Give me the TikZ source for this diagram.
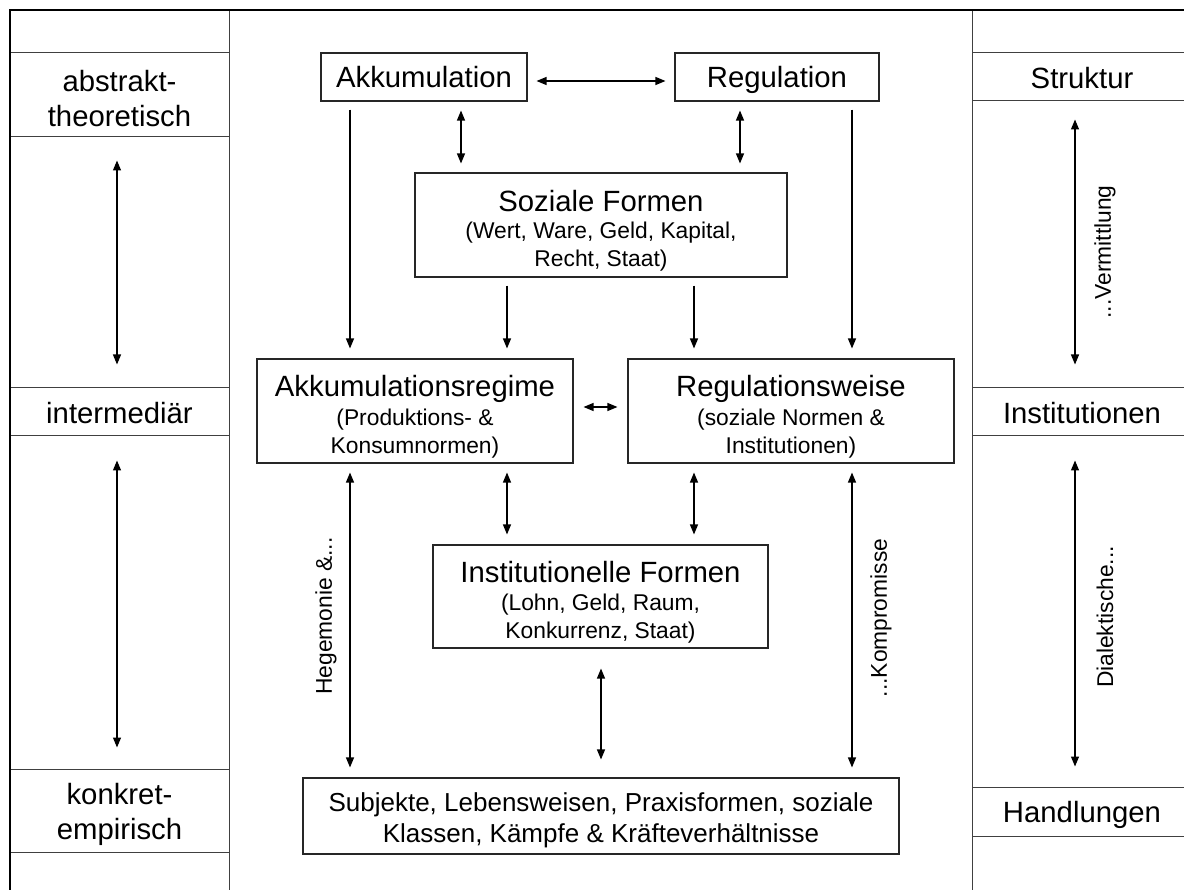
\documentclass[tikz,border=0pt]{standalone}
\usepackage{fontspec}
\setmainfont{Liberation Sans}
\usetikzlibrary{arrows.meta,calc}
\newcommand\mainsz{\fontsize{29.3}{34}\selectfont}
\newcommand\cellsz{\fontsize{29.3}{35}\selectfont}
\newcommand\subsz{\fontsize{22.8}{28}\selectfont}
\newcommand\subjsz{\fontsize{26}{31}\selectfont}
\newcommand\topstrut[1]{\rule{0pt}{#1}}
\begin{document}
\begin{tikzpicture}[x=1pt,y=-1pt,
  box/.style={draw=black!85, line width=1.1pt, inner sep=0pt, align=center, text=black},
  onebox/.style={box, font=\mainsz, text height=22pt, text depth=0pt},
  cell/.style={draw=black!75, line width=1pt, inner sep=0pt, align=center, font=\cellsz},
  onecell/.style={cell, text height=22.5pt, text depth=0pt},
  sarr/.style={line width=1.2pt, -{Triangle[length=10pt,width=8pt]}},
  darr/.style={line width=1.2pt, {Triangle[length=10pt,width=8pt]}-{Triangle[length=10pt,width=8pt]}},
  lbl/.style={font=\subsz, rotate=90, inner sep=0pt}
]
\useasboundingbox (0,0) rectangle (1184,890);
\clip (0,0) rectangle (1184,890);
\fill[white] (0,0) rectangle (1184,890);

% side columns
\node[cell, minimum width=219pt, minimum height=84pt] (abs) at (119.5,95) {\topstrut{28pt}abstrakt-\\theoretisch};
\node[onecell, minimum width=219pt, minimum height=48pt] (inter) at (119.5,412) {intermediär};
\node[cell, minimum width=219pt, minimum height=83pt] (konk) at (119.5,810.5) {\topstrut{29pt}konkret-\\empirisch};
\node[onecell, minimum width=220pt, minimum height=48pt] (struk) at (1082,77) {Struktur};
\node[onecell, minimum width=220pt, minimum height=48pt] (instR) at (1082,412) {Institutionen};
\node[onecell, minimum width=220pt, minimum height=49pt] (handl) at (1082,811.5) {Handlungen};

% frame and dividers
\draw[black!75, line width=1pt] (229,10) -- (229,890);
\draw[black!75, line width=1pt] (972,10) -- (972,890);
\draw[line width=2.5pt] (10,890) -- (10,10) -- (1190,10);

% central boxes
\node[onebox, minimum width=206pt, minimum height=48pt] (akk) at (424,77) {Akkumulation};
\node[onebox, minimum width=204pt, minimum height=48pt] (reg) at (777,77) {Regulation};
\node[box, font=\subsz, minimum width=372pt, minimum height=104pt] (soz) at (601,225)
  {{\mainsz\topstrut{33pt}Soziale Formen}\\[-1pt](Wert, Ware, Geld, Kapital,\\Recht, Staat)};
\node[box, font=\subsz, minimum width=316pt, minimum height=104pt] (akkreg) at (415,411)
  {{\mainsz\topstrut{33pt}Akkumulationsregime}\\[1pt](Produktions- \&\\Konsumnormen)};
\node[box, font=\subsz, minimum width=326pt, minimum height=104pt] (regw) at (791,411)
  {{\mainsz\topstrut{33pt}Regulationsweise}\\[1pt](soziale Normen \&\\Institutionen)};
\node[box, font=\subsz, minimum width=335pt, minimum height=103pt] (inst) at (600.5,596.5)
  {{\mainsz\topstrut{33pt}Institutionelle Formen}\\[0pt](Lohn, Geld, Raum,\\Konkurrenz, Staat)};
\node[box, font=\subjsz, minimum width=596pt, minimum height=76pt] (subj) at (601,816)
  {\topstrut{27pt}Subjekte, Lebensweisen, Praxisformen, soziale\\Klassen, Kämpfe \& Kräfteverhältnisse};

% x positions of connectors
\coordinate (xa) at (350,0);
\coordinate (xb) at (461,0);
\coordinate (xc) at (740,0);
\coordinate (xd) at (507,0);
\coordinate (xe) at (694,0);
\coordinate (xf) at (852,0);
\coordinate (xg) at (601,0);
\coordinate (xl) at (117,0);
\coordinate (xr) at (1075,0);

% connectors
\draw[darr, shorten <=9pt, shorten >=9pt] ([yshift=-4pt]akk.east) -- ([yshift=-4pt]reg.west);
\draw[darr, shorten <=9pt, shorten >=9pt] (akk.south -| xb) -- (soz.north -| xb);
\draw[darr, shorten <=9pt, shorten >=9pt] (reg.south -| xc) -- (soz.north -| xc);
\draw[sarr, shorten <=8pt, shorten >=10pt] (akk.south -| xa) -- (akkreg.north -| xa);
\draw[sarr, shorten <=8pt, shorten >=10pt] (reg.south -| xf) -- (regw.north -| xf);
\draw[sarr, shorten <=8pt, shorten >=10pt] (soz.south -| xd) -- (akkreg.north -| xd);
\draw[sarr, shorten <=8pt, shorten >=10pt] (soz.south -| xe) -- (regw.north -| xe);
\draw[darr, shorten <=10pt, shorten >=10pt] ([yshift=4pt]akkreg.east) -- ([yshift=4pt]regw.west);
\draw[darr, shorten <=9pt, shorten >=10pt] (akkreg.south -| xa) -- (subj.north -| xa);
\draw[darr, shorten <=9pt, shorten >=10pt] (akkreg.south -| xd) -- (inst.north -| xd);
\draw[darr, shorten <=9pt, shorten >=10pt] (regw.south -| xe) -- (inst.north -| xe);
\draw[darr, shorten <=9pt, shorten >=10pt] (regw.south -| xf) -- (subj.north -| xf);
\draw[darr, shorten <=20pt, shorten >=18pt] (inst.south -| xg) -- (subj.north -| xg);

\draw[darr, shorten <=23pt, shorten >=23pt] (abs.south -| xl) -- (inter.north -| xl);
\draw[darr, shorten <=24pt, shorten >=21pt] (inter.south -| xl) -- (konk.north -| xl);
\draw[darr, shorten <=18pt, shorten >=23pt] (struk.south -| xr) -- (instR.north -| xr);
\draw[darr, shorten <=24pt, shorten >=20pt] (instR.south -| xr) -- (handl.north -| xr);

% rotated labels
\node[lbl] (heg) at (326,616) {Hegemonie \&...};
\node[lbl] (komp) at (881,618) {...Kompromisse};
\node[lbl] (verm) at (1105,252) {...Vermittlung};
\node[lbl] (dial) at (1105,617) {Dialektische...};
\end{tikzpicture}
\end{document}
